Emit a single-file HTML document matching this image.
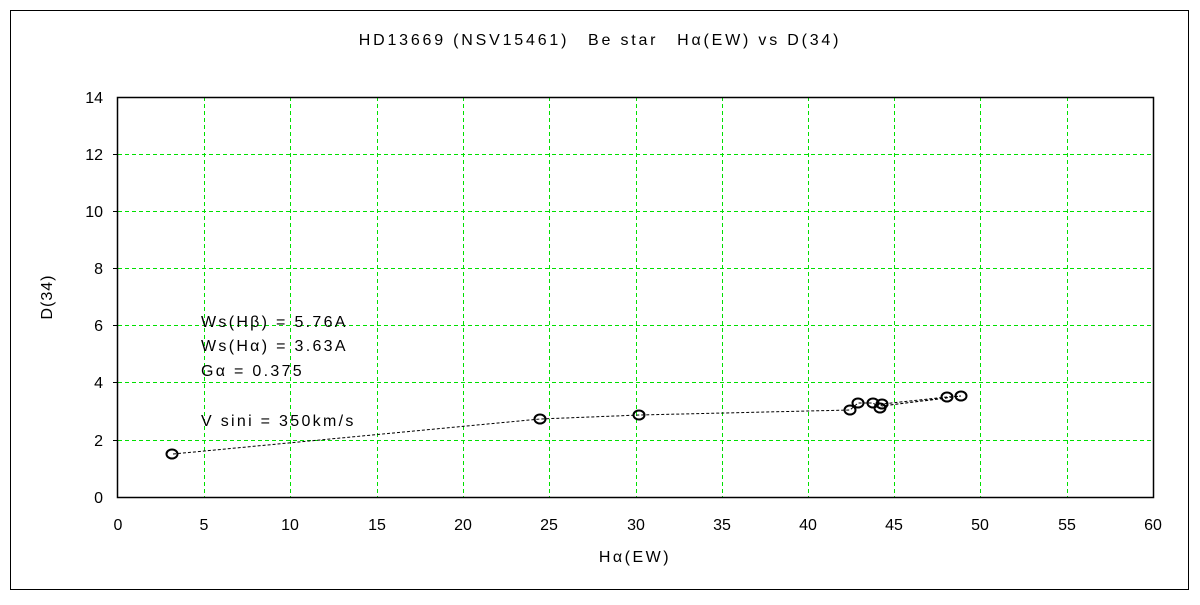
<!DOCTYPE html><html><head><style>body{margin:0;background:#fff}</style></head><body>
<svg width="1200" height="600" xmlns="http://www.w3.org/2000/svg" font-family="Liberation Sans, sans-serif" font-size="16">
<rect x="10.5" y="10.5" width="1178" height="579" fill="#fff" stroke="#000"/>
<text x="600" y="45" text-anchor="middle" fill="#000" letter-spacing="2.8">HD13669 (NSV15461)　Be star　Hα(EW) vs D(34)</text>
<g stroke="#00e000" stroke-dasharray="4,3" stroke-width="1">
<line x1="204.5" y1="97" x2="204.5" y2="497"/><line x1="290.5" y1="97" x2="290.5" y2="497"/><line x1="377.5" y1="97" x2="377.5" y2="497"/><line x1="463.5" y1="97" x2="463.5" y2="497"/><line x1="549.5" y1="97" x2="549.5" y2="497"/><line x1="636.5" y1="97" x2="636.5" y2="497"/><line x1="722.5" y1="97" x2="722.5" y2="497"/><line x1="808.5" y1="97" x2="808.5" y2="497"/><line x1="894.5" y1="97" x2="894.5" y2="497"/><line x1="980.5" y1="97" x2="980.5" y2="497"/><line x1="1067.5" y1="97" x2="1067.5" y2="497"/>
<line x1="118" y1="154.5" x2="1153" y2="154.5"/><line x1="118" y1="211.5" x2="1153" y2="211.5"/><line x1="118" y1="268.5" x2="1153" y2="268.5"/><line x1="118" y1="325.5" x2="1153" y2="325.5"/><line x1="118" y1="382.5" x2="1153" y2="382.5"/><line x1="118" y1="440.5" x2="1153" y2="440.5"/>
</g>
<rect x="117.5" y="97.5" width="1036" height="400" fill="none" stroke="#000" stroke-width="1.5"/>
<g stroke="#000"><line x1="113" y1="154.5" x2="118" y2="154.5"/><line x1="113" y1="211.5" x2="118" y2="211.5"/><line x1="113" y1="268.5" x2="118" y2="268.5"/><line x1="113" y1="325.5" x2="118" y2="325.5"/><line x1="113" y1="382.5" x2="118" y2="382.5"/><line x1="113" y1="440.5" x2="118" y2="440.5"/></g>
<g text-anchor="end"><text x="103" y="103">14</text><text x="103" y="160">12</text><text x="103" y="217">10</text><text x="103" y="274">8</text><text x="103" y="331">6</text><text x="103" y="388">4</text><text x="103" y="446">2</text><text x="103" y="503">0</text></g>
<g text-anchor="middle"><text x="118" y="530">0</text><text x="204" y="530">5</text><text x="290" y="530">10</text><text x="377" y="530">15</text><text x="463" y="530">20</text><text x="549" y="530">25</text><text x="636" y="530">30</text><text x="722" y="530">35</text><text x="808" y="530">40</text><text x="894" y="530">45</text><text x="980" y="530">50</text><text x="1067" y="530">55</text><text x="1153" y="530">60</text>
<text x="635" y="562" letter-spacing="2.5">Hα(EW)</text></g>
<text transform="translate(52,297) rotate(-90)" text-anchor="middle" letter-spacing="1">D(34)</text>
<g fill="#000" letter-spacing="2.3"><text x="201" y="327">Ws(Hβ) = 5.76A</text><text x="201" y="351">Ws(Hα) = 3.63A</text><text x="201" y="376">Gα = 0.375</text><text x="201" y="426">V sini = 350km/s</text></g>
<polyline fill="none" stroke="#000" stroke-dasharray="3,2" points="173,454 540,419 640,415 850,410 858,403 873,403 880,408 882,404 947,397 961,396 882,406 947,398"/>
<g fill="none" stroke="#000" stroke-width="2"><ellipse cx="172" cy="454" rx="5.5" ry="4.5"/><ellipse cx="540" cy="419" rx="5.5" ry="4.5"/><ellipse cx="639" cy="415" rx="5.5" ry="4.5"/><ellipse cx="850" cy="410" rx="5.5" ry="4.5"/><ellipse cx="858" cy="403" rx="5.5" ry="4.5"/><ellipse cx="873" cy="403" rx="5.5" ry="4.5"/><ellipse cx="880" cy="408" rx="5.5" ry="4.5"/><ellipse cx="882" cy="404" rx="5.5" ry="4.5"/><ellipse cx="947" cy="397" rx="5.5" ry="4.5"/><ellipse cx="961" cy="396" rx="5.5" ry="4.5"/></g>
</svg></body></html>
